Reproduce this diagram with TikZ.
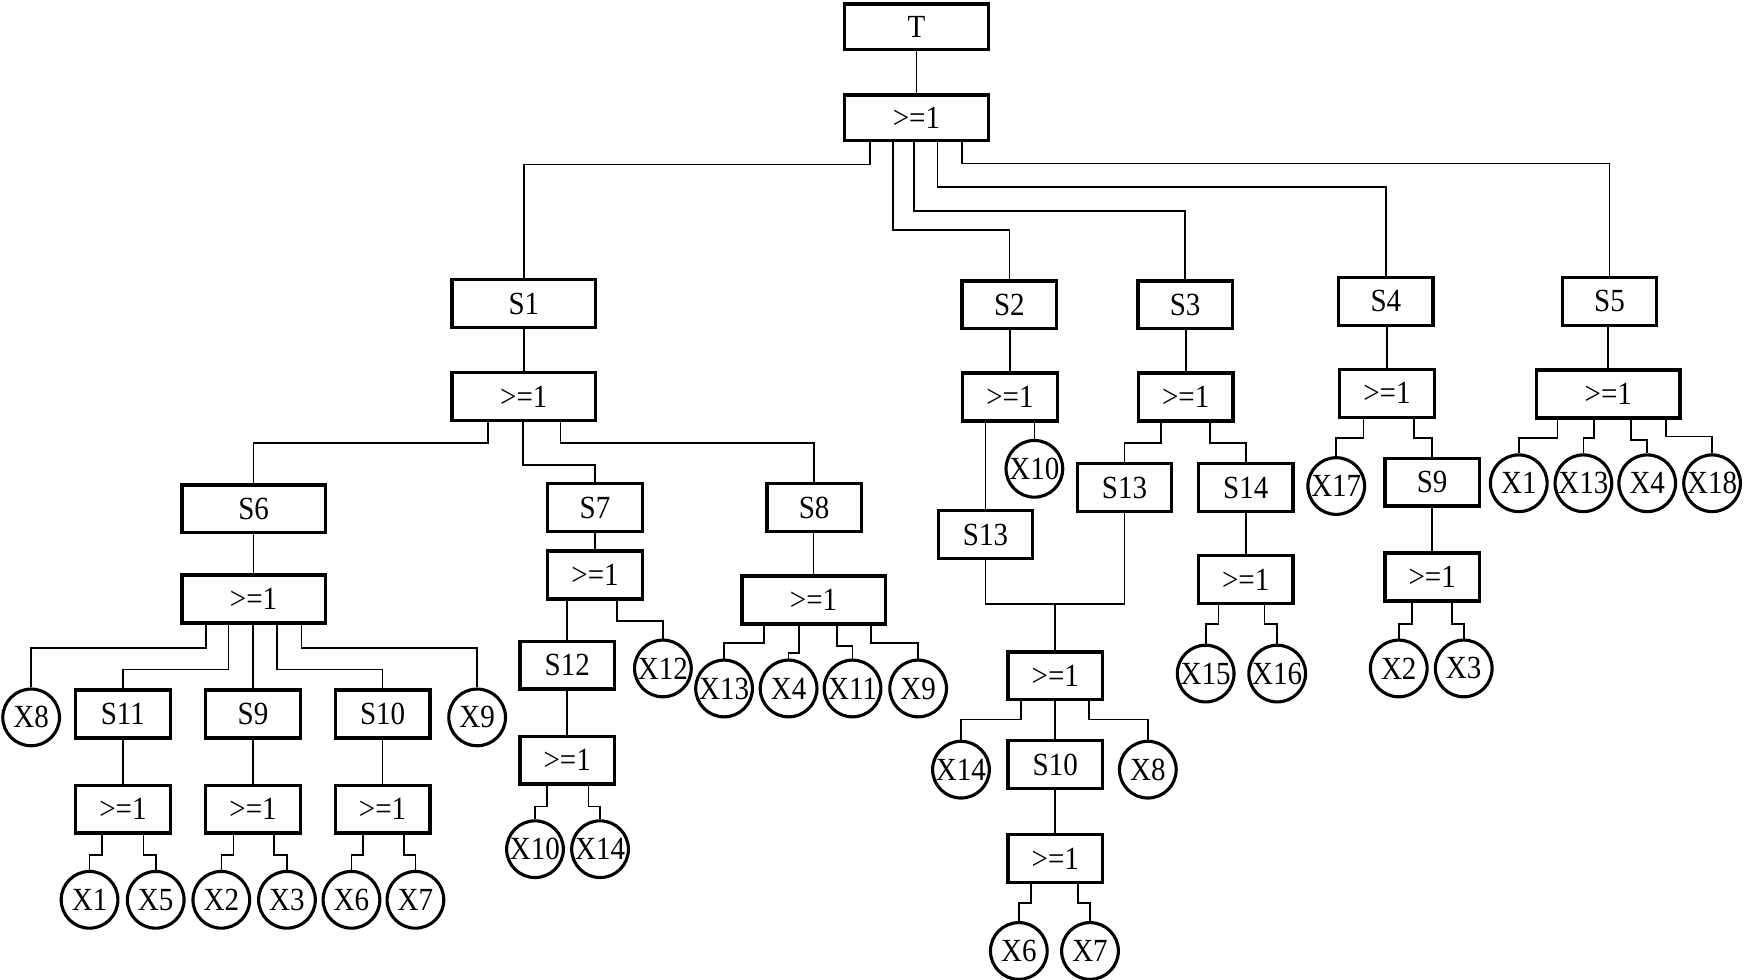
\documentclass[tikz,border=0pt]{standalone}
\usepackage{fontspec}
\setmainfont{Liberation Serif}[FakeStretch=0.9]
\newcommand\ftelb[4]{\draw[conn] (#2,0 |- #1.south) -- (#2,#3) -| (#4.north);}
\newcommand\ftvl[2]{\draw[conn] (#2.north |- #1.south) -- (#2.north);}
\begin{document}
\begin{tikzpicture}[x=0.5pt,y=-0.5pt,
  conn/.style={line width=0.75pt},
  gate/.style={draw,line width=1.5pt,inner sep=0pt,minimum height=21.5pt,font=\fontsize{14.5}{17}\selectfont},
  wide/.style={gate,minimum width=64.5pt},
  narrow/.style={gate,minimum width=42.5pt},
  ev/.style={circle,draw,line width=1.4pt,inner sep=0pt,minimum size=25.5pt,font=\fontsize{14.5}{17}\selectfont}]
\useasboundingbox (0,0) rectangle (1568,881);
% top
\node[wide,minimum height=20.5pt] (T) at (824,24) {T};
\node[wide,minimum height=20.5pt] (or0) at (824,106) {>=1};
\node[wide] (S1) at (471,273) {S1};
\node[narrow] (S2) at (907.5,274) {S2};
\node[narrow] (S3) at (1065.5,274) {S3};
\node[narrow] (S4) at (1246,271) {S4};
\node[narrow] (S5) at (1447,271) {S5};
% S1 subtree
\node[wide] (or1) at (471,356.5) {>=1};
\node[wide] (S6) at (228,457.5) {S6};
\node[wide] (or6) at (228,538.5) {>=1};
\node[narrow] (S11) at (110.5,642) {S11};
\node[narrow] (S9) at (227.5,642) {S9};
\node[narrow] (S10) at (344,642) {S10};
\node[ev] (X8) at (28,645) {X8};
\node[ev] (X9) at (429,645) {X9};
\node[narrow] (or11) at (110.5,727.5) {>=1};
\node[narrow] (or9) at (227.5,727.5) {>=1};
\node[narrow] (or10) at (344,727.5) {>=1};
\node[ev] (X1) at (80.5,809) {X1};
\node[ev] (X5) at (140,809) {X5};
\node[ev] (X2) at (199,809) {X2};
\node[ev] (X3) at (258,809) {X3};
\node[ev] (X6) at (316,809) {X6};
\node[ev] (X7) at (373.5,809) {X7};
\node[narrow] (S7) at (535,456.5) {S7};
\node[narrow] (or7) at (535,517) {>=1};
\node[narrow] (S12) at (510,598) {S12};
\node[ev] (X12) at (596,601) {X12};
\node[narrow] (or12) at (510,683.5) {>=1};
\node[ev] (X10a) at (481,763.5) {X10};
\node[ev] (X14a) at (539.5,763.5) {X14};
\node[narrow] (S8) at (732,456.5) {S8};
\node[wide] (or8) at (731.5,539.5) {>=1};
\node[ev] (X13a) at (651,619) {X13};
\node[ev] (X4a) at (709,619) {X4};
\node[ev] (X11) at (766.5,619) {X11};
\node[ev] (X9b) at (825.5,619) {X9};
% S2, S3 subtrees
\node[narrow] (or2) at (908,357) {>=1};
\node[narrow] (S13a) at (886,480.6) {S13};
\node[ev] (X10b) at (930,421.5) {X10};
\node[narrow] (or3) at (1066,357) {>=1};
\node[narrow] (S13b) at (1011,438.3) {S13};
\node[narrow] (S14) at (1120,438.3) {S14};
\coordinate (j13) at (948.8,543);
\node[narrow] (or13) at (948.8,607.7) {>=1};
\node[ev] (X14b) at (864,692) {X14};
\node[narrow] (S10b) at (948.8,687.5) {S10};
\node[ev] (X8b) at (1032,692) {X8};
\node[narrow] (or10b) at (948.8,772) {>=1};
\node[ev] (X6b) at (916,855) {X6};
\node[ev] (X7b) at (980,855) {X7};
\node[narrow] (or14) at (1120,521) {>=1};
\node[ev] (X15) at (1084,605.6) {X15};
\node[ev] (X16) at (1148.3,605.6) {X16};
% S4, S5 subtrees
\node[narrow] (or4) at (1247,353.6) {>=1};
\node[ev] (X17) at (1201.4,437) {X17};
\node[narrow] (S9b) at (1287.6,433.5) {S9};
\node[narrow] (or9b) at (1287.6,518.7) {>=1};
\node[ev] (X2b) at (1257.6,601) {X2};
\node[ev] (X3b) at (1316,601) {X3};
\node[wide] (or5) at (1446,354.3) {>=1};
\node[ev] (X1b) at (1365.5,434.5) {X1};
\node[ev] (X13b) at (1423.6,434.5) {X13};
\node[ev] (X4b) at (1481,434.5) {X4};
\node[ev] (X18) at (1539.3,434.5) {X18};
% connectors
\ftvl{T}{or0}
\ftelb{or0}{782}{148}{S1}
\ftelb{or0}{803}{207}{S2}
\ftelb{or0}{822}{190}{S3}
\ftelb{or0}{843}{168}{S4}
\ftelb{or0}{865}{147}{S5}
\ftvl{S1}{or1}
\ftelb{or1}{438.5}{398}{S6}
\ftelb{or1}{470}{418}{S7}
\ftelb{or1}{504}{398}{S8}
\ftvl{S6}{or6}
\ftelb{or6}{185}{582.5}{X8}
\ftelb{or6}{205.5}{602}{S11}
\ftvl{or6}{S9}
\ftelb{or6}{249}{602}{S10}
\ftelb{or6}{271}{582.5}{X9}
\ftvl{S11}{or11}
\ftvl{S9}{or9}
\ftvl{S10}{or10}
\ftelb{or11}{92}{769}{X1}
\ftelb{or11}{129}{769}{X5}
\ftelb{or9}{210}{769}{X2}
\ftelb{or9}{246.5}{769}{X3}
\ftelb{or10}{326.6}{769}{X6}
\ftelb{or10}{363}{769}{X7}
\ftvl{S7}{or7}
\ftvl{or7}{S12}
\ftelb{or7}{554.5}{558.4}{X12}
\ftvl{S12}{or12}
\ftelb{or12}{491.5}{725}{X10a}
\ftelb{or12}{529}{725}{X14a}
\ftvl{S8}{or8}
\ftelb{or8}{687}{578}{X13a}
\ftelb{or8}{718.4}{587}{X4a}
\ftelb{or8}{752.3}{581}{X11}
\ftelb{or8}{782.8}{578}{X9b}
\ftvl{S2}{or2}
\ftvl{or2}{S13a}
\ftvl{or2}{X10b}
\ftvl{S3}{or3}
\ftelb{or3}{1043.6}{398}{S13b}
\ftelb{or3}{1088}{398}{S14}
\draw[conn] (S13a.south) |- (j13) -| (S13b.south);
\draw[conn] (j13) -- (or13.north);
\ftelb{or13}{917.7}{647}{X14b}
\ftvl{or13}{S10b}
\ftelb{or13}{979}{647}{X8b}
\ftvl{S10b}{or10b}
\ftelb{or10b}{926.7}{812}{X6b}
\ftelb{or10b}{969}{812}{X7b}
\ftvl{S14}{or14}
\ftelb{or14}{1095.5}{561}{X15}
\ftelb{or14}{1136.8}{561}{X16}
\ftvl{S4}{or4}
\ftelb{or4}{1225.8}{394}{X17}
\ftelb{or4}{1271}{394}{S9b}
\ftvl{S9b}{or9b}
\ftelb{or9b}{1269.2}{561}{X2b}
\ftelb{or9b}{1305.2}{561}{X3b}
\ftvl{S5}{or5}
\ftelb{or5}{1400.3}{394}{X1b}
\ftelb{or5}{1433.2}{394}{X13b}
\ftelb{or5}{1466.4}{395.6}{X4b}
\ftelb{or5}{1497.6}{392.6}{X18}
\end{tikzpicture}
\end{document}
